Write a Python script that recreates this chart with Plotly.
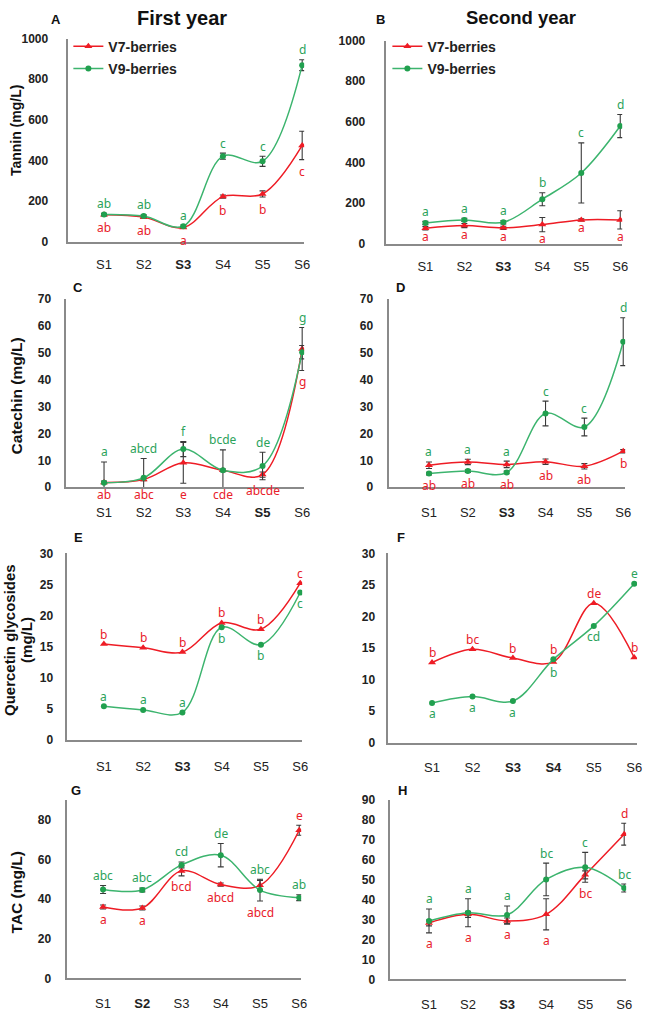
import plotly.graph_objects as go

W, H = 649, 1012

stages = ["S1", "S2", "S3", "S4", "S5", "S6"]

# ---- A: Tannin, first year
tannin1_v7 = [133, 121, 70, 222, 235, 474]
tannin1_v7_err = [5, 6, 5, 8, 15, 70]
tannin1_v9 = [134, 126, 76, 421, 396, 869]
tannin1_v9_err = [6, 7, 6, 15, 25, 27]
tannin1_v7_let = ["ab", "ab", "a", "b", "b", "c"]
tannin1_v9_let = ["ab", "ab", "a", "c", "c", "d"]

# ---- B: Tannin, second year
tannin2_v7 = [76, 89, 78, 94, 117, 117]
tannin2_v7_err = [8, 10, 8, 35, 5, 45]
tannin2_v9 = [102, 117, 105, 219, 348, 579]
tannin2_v9_err = [8, 8, 8, 32, 148, 57]
tannin2_v7_let = ["a", "a", "a", "a", "a", "a"]
tannin2_v9_let = ["a", "a", "a", "b", "c", "d"]

# ---- C: Catechin, first year
catechin1_v7 = [1.8, 2.9, 9.1, 6.3, 4.7, 51.4]
catechin1_v7_err = [0.5, 0.5, 7.6, 0.5, 1.0, 8.0]
catechin1_v9 = [1.7, 3.5, 14.2, 6.3, 7.9, 50.2]
catechin1_v9_err = [7.7, 7.2, 2.8, 7.6, 5.1, 2.5]
catechin1_v7_let = ["ab", "abc", "e", "cde", "abcde", "g"]
catechin1_v9_let = ["a", "abcd", "f", "bcde", "de", "g"]

# ---- D: Catechin, second year
catechin2_v7 = [8.2, 9.4, 8.5, 9.5, 7.8, 13.4]
catechin2_v7_err = [1.2, 1.0, 1.2, 1.0, 1.0, 0.6]
catechin2_v9 = [5.1, 6.0, 5.5, 27.4, 22.4, 54.1]
catechin2_v9_err = [0.5, 0.5, 0.5, 4.6, 3.3, 8.9]
catechin2_v7_let = ["ab", "ab", "ab", "ab", "ab", "b"]
catechin2_v9_let = ["a", "a", "a", "c", "c", "d"]

# ---- E: Quercetin glycosides, first year
quercetin1_v7 = [15.4, 14.8, 14.1, 18.8, 17.8, 25.2]
quercetin1_v7_err = [0, 0, 0, 0, 0, 0]
quercetin1_v9 = [5.4, 4.8, 4.4, 18.1, 15.3, 23.7]
quercetin1_v9_err = [0, 0, 0, 0, 0, 0]
quercetin1_v7_let = ["b", "b", "b", "b", "b", "c"]
quercetin1_v9_let = ["a", "a", "a", "b", "b", "c"]

# ---- F: Quercetin glycosides, second year
quercetin2_v7 = [12.7, 14.8, 13.4, 12.8, 22.1, 13.5]
quercetin2_v7_err = [0, 0, 0, 0, 0, 0]
quercetin2_v9 = [6.3, 7.3, 6.6, 13.2, 18.5, 25.2]
quercetin2_v9_err = [0, 0, 0, 0, 0, 0]
quercetin2_v7_let = ["b", "bc", "b", "b", "de", "b"]
quercetin2_v9_let = ["a", "a", "a", "b", "cd", "e"]

# ---- G: TAC, first year
tac1_v7 = [36.0, 35.5, 54.2, 47.3, 46.9, 74.7]
tac1_v7_err = [1.0, 1.0, 2.5, 0.8, 2.5, 2.5]
tac1_v9 = [44.8, 44.6, 57.2, 62.1, 44.5, 40.7]
tac1_v9_err = [2.0, 1.0, 1.5, 5.9, 5.5, 1.5]
tac1_v7_let = ["a", "a", "bcd", "abcd", "abcd", "e"]
tac1_v9_let = ["abc", "abc", "cd", "de", "abc", "ab"]

# ---- H: TAC, second year
tac2_v7 = [28.3, 32.6, 29.3, 32.6, 52.4, 72.8]
tac2_v7_err = [1.5, 1.5, 1.5, 7.8, 2.0, 5.5]
tac2_v9 = [29.3, 33.4, 32.3, 50.1, 56.2, 45.8]
tac2_v9_err = [6.0, 7.0, 4.5, 8.2, 7.5, 2.0]
tac2_v7_let = ["a", "a", "a", "a", "bc", "d"]
tac2_v9_let = ["a", "a", "a", "bc", "c", "bc"]

series_names = ["V7-berries", "V9-berries"]
col_titles = ["First year", "Second year"]
y_titles = ["Tannin (mg/L)", "Catechin (mg/L)", "Quercetin glycosides", "(mg/L)", "TAC (mg/L)"]
panel_letters = ["A", "B", "C", "D", "E", "F", "G", "H"]

# ---- styling / layout config (pixel geometry of each panel)
RED, GREEN = "#ee1c25", "#21a04f"
RED_TXT, GREEN_TXT = "#e8202a", "#2ca25a"
GREEN_LINE = "#3cb46e"

panels = [
    dict(d=(tannin1_v7, tannin1_v7_err, tannin1_v9, tannin1_v9_err, tannin1_v7_let, tannin1_v9_let),
         px=(69, 307), py=(238, 32), xr=(0.1, 6.05), yr=(0, 1000), dt=200, tmax=1000, bold=[2],
         s7="BBBBBB", s9="AAAAAA", ytl=16, xtl=10, dn=-12, lx=(75, 36)),
    dict(d=(tannin2_v7, tannin2_v7_err, tannin2_v9, tannin2_v9_err, tannin2_v7_let, tannin2_v9_let),
         px=(390, 628), py=(240, 34), xr=(0.0, 6.05), yr=(0, 1000), dt=200, tmax=1000, bold=[2],
         s7="BBBBBB", s9="AAAAAA", ytl=17, xtl=10, dn=-7, lx=(397, 36)),
    dict(d=(catechin1_v7, catechin1_v7_err, catechin1_v9, catechin1_v9_err, catechin1_v7_let, catechin1_v9_let),
         px=(67, 307), py=(487, 296), xr=(0.05, 6.05), yr=(0, 70), dt=10, tmax=70, bold=[4],
         s7="BBBBBb", s9="AAAAAA", ytl=11, xtl=12, dn=-11),
    dict(d=(catechin2_v7, catechin2_v7_err, catechin2_v9, catechin2_v9_err, catechin2_v7_let, catechin2_v9_let),
         px=(393, 631), py=(487, 296), xr=(-0.02, 6.05), yr=(0, 70), dt=10, tmax=70, bold=[2],
         s7="BBBBBB", s9="AAAAAA", ytl=12, xtl=12, dn=-11),
    dict(d=(quercetin1_v7, quercetin1_v7_err, quercetin1_v9, quercetin1_v9_err, quercetin1_v7_let, quercetin1_v9_let),
         px=(68, 305), py=(743, 554), xr=(0.07, 6.05), yr=(0, 30), dt=5, tmax=30, bold=[2],
         s7="AAAAAA", s9="aaaBBB", ytl=10, xtl=14, dn=-11),
    dict(d=(quercetin2_v7, quercetin2_v7_err, quercetin2_v9, quercetin2_v9_err, quercetin2_v7_let, quercetin2_v9_let),
         px=(392, 643), py=(746, 554), xr=(-0.08, 6.07), yr=(0, 30), dt=5, tmax=30, bold=[2, 3],
         s7="AAAAAa", s9="BBBBBA", ytl=9, xtl=12, dn=-11),
    dict(d=(tac1_v7, tac1_v7_err, tac1_v9, tac1_v9_err, tac1_v7_let, tac1_v9_let),
         px=(68, 304), py=(985, 804), xr=(0.09, 6.05), yr=(0, 90), dt=20, tmax=80, bold=[1],
         s7="BBBBBA", s9="AAAAAa", ytl=12, xtl=12, dn=-11),
    dict(d=(tac2_v7, tac2_v7_err, tac2_v9, tac2_v9_err, tac2_v7_let, tac2_v9_let),
         px=(394, 632), py=(986, 804), xr=(0.01, 6.05), yr=(0, 90), dt=10, tmax=90, bold=[2],
         s7="BBBBBA", s9="AAAAAa", ytl=11, xtl=12, dn=-11),
]

letter_pos = [(57, 13), (384, 13), (79, 284), (404, 284), (79, 538), (405, 538), (77, 794), (406, 794)]
ytitle_pos = [(16, 125, 14), (17, 394, 15.5), (9, 642, 15), (26, 642, 15), (17, 898, 15.5)]
title_pos = [(184, 11, 20), (526, 11, 18.5)]

FONT = "Liberation Sans, Arial, sans-serif"
LET_FONT = "Noto Sans, Liberation Sans, sans-serif"

fig = go.Figure()
annotations = []
layout = {}
xs = list(range(1, len(stages) + 1))

for k, p in enumerate(panels):
    n = "" if k == 0 else str(k + 1)
    v7, e7, v9, e9, l7, l9 = p["d"]
    xa, ya = "x" + n, "y" + n
    leg = None
    if k == 0:
        leg = "legend"
    elif k == 1:
        leg = "legend2"
    for name, vals, errs, color, lcolor, sym, msize in [
        (series_names[0], v7, e7, RED, RED, "triangle-up", 7),
        (series_names[1], v9, e9, GREEN, GREEN_LINE, "circle", 6),
    ]:
        tr = dict(
            x=xs, y=vals, name=name, mode="lines+markers",
            line=dict(color=lcolor, width=1.5, shape="spline", smoothing=1.0),
            marker=dict(color=color, symbol=sym, size=msize),
            xaxis=xa, yaxis=ya, showlegend=leg is not None,
            legendgroup=name + str(k), hoverinfo="skip",
            error_y=dict(type="data", array=errs, color="#3a3a3a", thickness=1.1, width=3,
                         visible=any(e > 0 for e in errs)),
        )
        if leg:
            tr["legend"] = leg
        fig.add_trace(go.Scatter(**tr))

    x0, x1 = p["px"]
    yb, yt = p["py"]
    layout["xaxis" + n] = dict(
        domain=[x0 / W, x1 / W], range=list(p["xr"]), anchor=ya,
        tickvals=xs,
        ticktext=[("<b>%s</b>" % s) if i in p["bold"] else s for i, s in enumerate(stages)],
        ticks="outside", ticklen=p["xtl"], tickcolor="rgba(0,0,0,0)",
        showline=True, linecolor="#8a8a8a", linewidth=1.5,
        showgrid=False, zeroline=False,
        tickfont=dict(family=FONT, size=13, color="#222"),
    )
    layout["yaxis" + n] = dict(
        domain=[1 - yb / H, 1 - yt / H], range=list(p["yr"]), anchor=xa,
        tickvals=list(range(0, p["tmax"] + 1, p["dt"])),
        ticks="outside", ticklen=p["ytl"], tickcolor="rgba(0,0,0,0)",
        showline=True, linecolor="#8a8a8a", linewidth=1.5,
        showgrid=False, zeroline=False,
        tickfont=dict(family=FONT, size=12, color="#222", weight="bold"),
    )

    # significance letters
    for lets, sides, color, own, own_e in [(l7, p["s7"], RED_TXT, v7, e7), (l9, p["s9"], GREEN_TXT, v9, e9)]:
        for i, t in enumerate(lets):
            s = sides[i]
            if s == "a":
                yy, sh = own[i] + own_e[i], 10
            elif s == "b":
                yy, sh = own[i] - own_e[i], p["dn"]
            elif s == "A":
                yy, sh = max(v7[i] + e7[i], v9[i] + e9[i]), 10
            else:
                yy, sh = min(v7[i] - e7[i], v9[i] - e9[i]), p["dn"]
            if yy <= 0:
                yy, sh = 0, -7
            annotations.append(dict(
                x=xs[i], y=yy, xref=xa, yref=ya, text=t, showarrow=False,
                yshift=sh, yanchor="middle", xanchor="center",
                font=dict(family=LET_FONT, size=12, color=color),
            ))

for (x, y), t in zip(letter_pos, panel_letters):
    annotations.append(dict(x=x / W, y=1 - y / H, xref="paper", yref="paper", text="<b>%s</b>" % t,
                            showarrow=False, xanchor="center", yanchor="middle",
                            font=dict(family=FONT, size=13, color="#111")))
for (x, y, fs), t in zip(ytitle_pos, y_titles):
    annotations.append(dict(x=x / W, y=1 - y / H, xref="paper", yref="paper", text="<b>%s</b>" % t,
                            showarrow=False, xanchor="center", yanchor="middle", textangle=-90,
                            font=dict(family=FONT, size=fs, color="#111")))
for (x, y, fs), t in zip(title_pos, col_titles):
    annotations.append(dict(x=x / W, y=1 - y / H, xref="paper", yref="paper", text="<b>%s</b>" % t,
                            showarrow=False, xanchor="center", yanchor="middle",
                            font=dict(family=FONT, size=fs, color="#111")))

legfont = dict(family=FONT, size=14, color="#222", weight="bold")
p0, p1 = panels[0]["lx"], panels[1]["lx"]
layout["legend"] = dict(x=(p0[0] - 6) / W, y=1 - (p0[1] - 12) / H, xanchor="left", yanchor="top",
                        bgcolor="rgba(0,0,0,0)", font=legfont, itemwidth=30, tracegroupgap=1,
                        borderwidth=0)
layout["legend2"] = dict(x=(p1[0] - 6) / W, y=1 - (p1[1] - 12) / H, xanchor="left", yanchor="top",
                         bgcolor="rgba(0,0,0,0)", font=legfont, itemwidth=30, tracegroupgap=1,
                         borderwidth=0)

fig.update_layout(
    width=W, height=H, margin=dict(l=0, r=0, t=0, b=0),
    paper_bgcolor="white", plot_bgcolor="white",
    annotations=annotations, **layout,
)

fig.write_html("out.html", config={"displayModeBar": False},
               post_script="document.body.style.margin='0';document.body.style.overflow='hidden';")
